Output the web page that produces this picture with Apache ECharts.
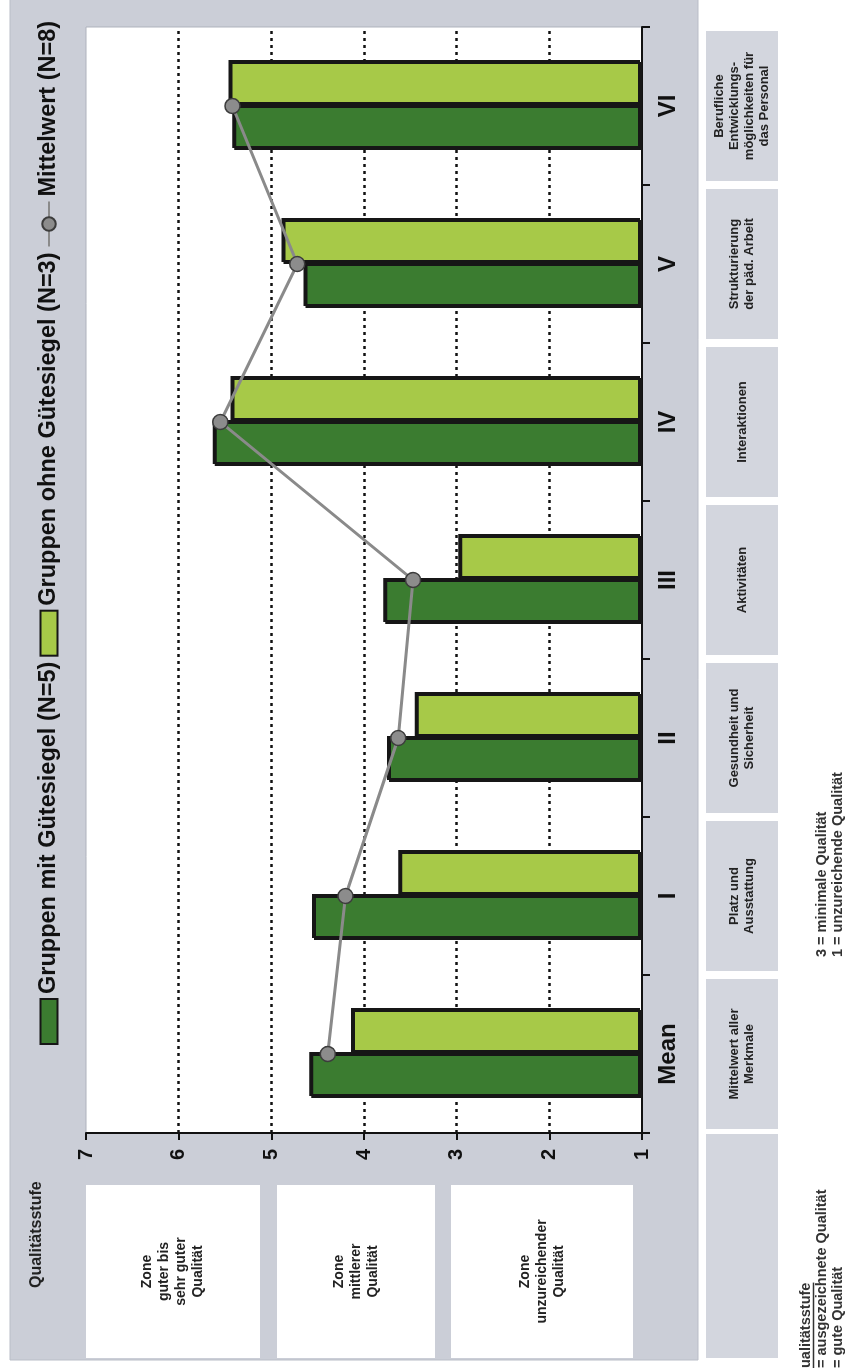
<!DOCTYPE html>
<html>
<head>
<meta charset="utf-8">
<script src="https://cdn.jsdelivr.net/npm/echarts@6/dist/echarts.min.js"></script>
<style>
html, body { margin: 0; padding: 0; background: #ffffff; width: 849px; height: 1369px; overflow: hidden; }
#chart { position: absolute; left: 0; top: 0; width: 1369px; height: 849px;
  transform-origin: 0 0; transform: translate(0px, 1369px) rotate(-90deg); }
</style>
</head>
<body>
<div id="chart"></div>
<script>
// ---------------- data ----------------
const categories = ['Mean', 'I', 'II', 'III', 'IV', 'V', 'VI'];
const categoryDescriptions = [
  'Mittelwert aller\nMerkmale',
  'Platz und\nAusstattung',
  'Gesundheit und\nSicherheit',
  'Aktivitäten',
  'Interaktionen',
  'Strukturierung\nder päd. Arbeit',
  'Berufliche\nEntwicklungs-\nmöglichkeiten für\ndas Personal'
];
const seriesNames = ['Gruppen mit Gütesiegel (N=5)', 'Gruppen ohne Gütesiegel (N=3)', 'Mittelwert (N=8)'];
const withSeal    = [4.57, 4.54, 3.73, 3.77, 5.61, 4.63, 5.40];
const withoutSeal = [4.12, 3.61, 3.43, 2.96, 5.42, 4.87, 5.44];
const meanAll     = [4.39, 4.20, 3.63, 3.47, 5.55, 4.72, 5.42];
const valueMin = 1;
const valueMax = 7;
const valueStep = 1;
const valueAxisTitle = 'Qualitätsstufe';
const zoneLabels = ['Zone\nguter bis\nsehr guter\nQualität', 'Zone\nmittlerer\nQualität', 'Zone\nunzureichender\nQualität'];
const noteHeading = 'ualitätsstufe';
const notesLeft = ['= ausgezeichnete Qualität', '= gute Qualität'];
const notesRight = ['3 = minimale Qualität', '1 = unzureichende Qualität'];

// ---------------- layout / style ----------------
const FONT = '"Liberation Sans", Arial, Helvetica, sans-serif';
const W = 1369, H = 849;
const GRID = { left: 236, right: 27, top: 86, bottom: 207 };
const PANEL = { x: 9, y: 10, w: 1365, h: 688, color: '#cbced7' };
const ZONE_U = [11, 184];
const ZONE_V = [[86, 260], [277, 435], [451, 633]];
const DESC_V = [706, 778];
const DESC_COLOR = '#d3d6de';
const EMPTY_BOX_U = [11, 235];
const NOTE_V = [806, 822, 838];
const DARK = '#3b7c30';
const LIGHT = '#a7c948';
const EDGE = '#161616';

const chart = echarts.init(document.getElementById('chart'), null, { renderer: 'canvas', width: W, height: H });

const barStyle = (c) => ({
  color: c, borderColor: EDGE, borderWidth: 2,
  shadowColor: EDGE, shadowBlur: 0, shadowOffsetX: 2, shadowOffsetY: -2
});

chart.setOption({
  animation: false,
  backgroundColor: '#ffffff',
  textStyle: { fontFamily: FONT },
  grid: Object.assign({ show: true, backgroundColor: '#ffffff', borderWidth: 1, borderColor: '#aeb2bc', containLabel: false }, GRID),
  legend: {
    left: 319, top: 32, itemWidth: 45, itemHeight: 17, itemGap: 5,
    textStyle: { fontSize: 23.5, fontWeight: 'bold', color: '#111', fontFamily: FONT },
    data: [
      { name: seriesNames[0], icon: 'rect' },
      { name: seriesNames[1], icon: 'rect' },
      { name: seriesNames[2] }
    ]
  },
  xAxis: {
    type: 'category', data: categories,
    axisLine: { lineStyle: { color: '#111', width: 2 } },
    axisTick: { show: true, length: 8, lineStyle: { color: '#111', width: 2 } },
    axisLabel: { fontSize: 24, fontWeight: 'bold', color: '#111', margin: 14, fontFamily: FONT }
  },
  yAxis: {
    type: 'value', min: valueMin, max: valueMax, interval: valueStep, startValue: valueMin,
    axisLine: { show: true, lineStyle: { color: '#111', width: 2 } },
    axisTick: { show: true, length: 7, lineStyle: { color: '#111', width: 2 } },
    axisLabel: { fontSize: 20, fontWeight: 'bold', color: '#111', margin: 16, fontFamily: FONT },
    splitLine: { show: true, showMinLine: false, showMaxLine: false,
      lineStyle: { color: '#111', width: 2.5, type: [3, 4] } }
  },
  series: [
    { name: seriesNames[0], type: 'bar', data: withSeal, barWidth: 44, barGap: '0%', clip: true, itemStyle: barStyle(DARK) },
    { name: seriesNames[1], type: 'bar', data: withoutSeal, barWidth: 44, barGap: '0%', clip: true, itemStyle: barStyle(LIGHT) },
    { name: seriesNames[2], type: 'line', data: meanAll, z: 5, symbol: 'circle', symbolSize: 15,
      lineStyle: { color: '#8a8a8a', width: 3 },
      itemStyle: { color: '#8c8c8c', borderColor: '#3c3c3c', borderWidth: 1.5 } }
  ]
});

// ---------------- decorations placed through the category scale ----------------
const measure = (() => {
  const ctx = document.createElement('canvas').getContext('2d');
  return (text, font) => { ctx.font = font; return ctx.measureText(text).width; };
})();

const centers = categories.map(c => chart.convertToPixel({ xAxisIndex: 0 }, c));
const band = centers[1] - centers[0];
const boxW = band - 8;

const graphics = [];
graphics.push({ type: 'rect', z: -10, shape: { x: PANEL.x, y: PANEL.y, width: PANEL.w, height: PANEL.h },
  style: { fill: PANEL.color, stroke: '#b9bdc7', lineWidth: 1 } });

// axis title
graphics.push({ type: 'text', z: 10, x: 81, y: 37,
  style: { text: valueAxisTitle, font: 'bold 16px ' + FONT, fill: '#222', align: 'left', verticalAlign: 'middle' } });

// zone boxes
zoneLabels.forEach((t, i) => {
  const v0 = ZONE_V[i][0], v1 = ZONE_V[i][1];
  graphics.push({ type: 'rect', z: 1, shape: { x: ZONE_U[0], y: v0, width: ZONE_U[1] - ZONE_U[0], height: v1 - v0 },
    style: { fill: '#ffffff' } });
  graphics.push({ type: 'text', z: 10, x: (ZONE_U[0] + ZONE_U[1]) / 2, y: (v0 + v1) / 2,
    style: { text: t, font: 'bold 14px ' + FONT, lineHeight: 17, fill: '#222', align: 'center', verticalAlign: 'middle' } });
});

// description boxes under the category axis
graphics.push({ type: 'rect', z: 1, shape: { x: EMPTY_BOX_U[0], y: DESC_V[0], width: EMPTY_BOX_U[1] - EMPTY_BOX_U[0], height: DESC_V[1] - DESC_V[0] },
  style: { fill: DESC_COLOR } });
categoryDescriptions.forEach((t, i) => {
  const cx = centers[i];
  graphics.push({ type: 'rect', z: 1, shape: { x: cx - boxW / 2, y: DESC_V[0], width: boxW, height: DESC_V[1] - DESC_V[0] },
    style: { fill: DESC_COLOR } });
  graphics.push({ type: 'text', z: 10, x: cx, y: (DESC_V[0] + DESC_V[1]) / 2,
    style: { text: t, font: 'bold 13px ' + FONT, lineHeight: 15, fill: '#222', align: 'center', verticalAlign: 'middle' } });
});

// notes
const noteFont = 'bold 14.5px ' + FONT;
graphics.push({ type: 'text', z: 10, x: 1, y: NOTE_V[0],
  style: { text: noteHeading, font: noteFont, fill: '#333', align: 'left', verticalAlign: 'middle' } });
const hw = measure(noteHeading, noteFont);
graphics.push({ type: 'line', z: 10, shape: { x1: 1, y1: NOTE_V[0] + 7.5, x2: 1 + hw, y2: NOTE_V[0] + 7.5 }, style: { stroke: '#333', lineWidth: 1.3 } });
notesLeft.forEach((t, i) => {
  graphics.push({ type: 'text', z: 10, x: 1, y: NOTE_V[i + 1],
    style: { text: t, font: noteFont, fill: '#333', align: 'left', verticalAlign: 'middle' } });
});
notesRight.forEach((t, i) => {
  graphics.push({ type: 'text', z: 10, x: 412, y: NOTE_V[i + 1],
    style: { text: t, font: noteFont, fill: '#333', align: 'left', verticalAlign: 'middle' } });
});

chart.setOption({ graphic: graphics });
</script>
</body>
</html>
